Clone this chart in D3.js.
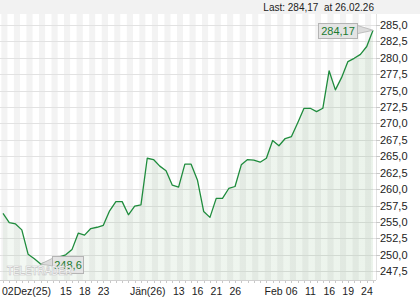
<!DOCTYPE html>
<html>
<head>
<meta charset="utf-8">
<script src="https://cdn.jsdelivr.net/npm/d3@7"></script>
<style>
  body { margin: 0; background: #fff; }
  text { font-family: "Liberation Sans", Arial, sans-serif; }
</style>
</head>
<body>
<div id="chart"></div>
<script>
// trading days shown on the chart
const dates = [
  "2025-12-02","2025-12-03","2025-12-04","2025-12-05","2025-12-08","2025-12-09","2025-12-10",
  "2025-12-11","2025-12-12","2025-12-15","2025-12-16","2025-12-17","2025-12-18","2025-12-19",
  "2025-12-22","2025-12-23","2025-12-24","2025-12-29","2025-12-30","2025-12-31","2026-01-02",
  "2026-01-05","2026-01-06","2026-01-07","2026-01-08","2026-01-09","2026-01-12","2026-01-13",
  "2026-01-14","2026-01-15","2026-01-16","2026-01-19","2026-01-20","2026-01-21","2026-01-22",
  "2026-01-23","2026-01-26","2026-01-27","2026-01-28","2026-01-29","2026-01-30","2026-02-02",
  "2026-02-03","2026-02-04","2026-02-05","2026-02-06","2026-02-09","2026-02-10","2026-02-11",
  "2026-02-12","2026-02-13","2026-02-16","2026-02-17","2026-02-18","2026-02-19","2026-02-20",
  "2026-02-23","2026-02-24","2026-02-25","2026-02-26"
];
const prices = [
  256.3, 254.9, 254.7, 253.8, 250.1, 249.4, 248.6, 248.9, 249.3, 249.7,
  250.0, 250.8, 253.3, 253.0, 254.0, 254.2, 254.5, 256.7, 258.1, 258.1,
  256.1, 257.4, 257.6, 264.7, 264.5, 263.5, 262.8, 260.6, 260.3, 263.8,
  263.8, 261.4, 256.6, 255.7, 258.6, 258.6, 260.1, 260.4, 263.7, 264.5,
  264.4, 264.1, 264.7, 267.4, 266.6, 267.7, 268.0, 270.1, 272.3, 272.3,
  271.8, 272.3, 278.0, 275.1, 277.0, 279.4, 279.9, 280.5, 281.7, 284.17
];
const yTicks = [247.5, 250, 252.5, 255, 257.5, 260, 262.5, 265, 267.5, 270, 272.5, 275, 277.5, 280, 282.5, 285];
const tickDates = ["2025-12-02","2025-12-15","2025-12-18","2025-12-23","2026-01-02","2026-01-13","2026-01-16",
                   "2026-01-21","2026-01-26","2026-02-02","2026-02-06","2026-02-11","2026-02-16","2026-02-19","2026-02-24"];
const tickTexts = ["02Dez(25)","15","18","23","Jän(26)","13","16","21","26","Feb","06","11","16","19","24"];
const lastText = "Last: 284,17  at 26.02.26";
const watermark = "TELETRADER";

const W = 420, H = 300;
const plotL = 0, plotR = 376, plotT = 14, plotB = 280;

const svg = d3.select("#chart").append("svg")
  .attr("width", W).attr("height", H);

const x = d3.scalePoint().domain(dates).range([3, 373]);
const y = d3.scaleLinear().domain([247.5, 285]).range([271.3, 24.8]);
const step = x.step();
const comma = v => d3.format(".1f")(v).replace(".", ",");
const comma2 = v => d3.format(".2f")(v).replace(".", ",");

// top band
svg.append("rect").attr("x", 0).attr("y", 0).attr("width", W).attr("height", plotT)
  .attr("fill", "#f2f2f2");

const clip = svg.append("clipPath").attr("id", "plot-clip").append("rect")
  .attr("x", plotL).attr("y", plotT).attr("width", plotR - plotL).attr("height", plotB - plotT);

const plot = svg.append("g").attr("clip-path", "url(#plot-clip)");

// day stripes
plot.selectAll(".stripe")
  .data(dates)
  .join("rect")
  .attr("class", "stripe")
  .attr("x", d => x(d) - step / 2 + 1.5)
  .attr("y", plotT)
  .attr("width", step)
  .attr("height", plotB - plotT)
  .attr("fill", (d, i) => i % 2 === 0 ? "#f3f3f3" : "#ffffff");

// horizontal grid
plot.selectAll(".grid")
  .data(yTicks)
  .join("line")
  .attr("class", "grid")
  .attr("x1", plotL).attr("x2", plotR)
  .attr("y1", d => Math.round(y(d)) + 0.5)
  .attr("y2", d => Math.round(y(d)) + 0.5)
  .attr("stroke", "#e2e2e2");

// area under line
const grad = svg.append("defs").append("linearGradient").attr("id", "fillGrad")
  .attr("x1", "0%").attr("x2", "100%").attr("y1", "0%").attr("y2", "0%");
grad.append("stop").attr("offset", "0%").attr("stop-color", "#3c8c3c").attr("stop-opacity", 0.06);
grad.append("stop").attr("offset", "100%").attr("stop-color", "#3c8c3c").attr("stop-opacity", 0.1);

const pts = dates.map((d, i) => [d, prices[i]]);

plot.append("path")
  .datum(pts)
  .attr("fill", "url(#fillGrad)")
  .attr("d", d3.area().x(d => x(d[0])).y0(plotB).y1(d => y(d[1])));

plot.append("path")
  .datum(pts)
  .attr("fill", "none")
  .attr("stroke", "#1f8c3d")
  .attr("stroke-width", 1.3)
  .attr("stroke-linejoin", "round")
  .attr("d", d3.line().x(d => x(d[0])).y(d => y(d[1])));

// bottom axis line and day ticks
svg.append("line").attr("x1", plotL).attr("x2", plotR)
  .attr("y1", plotB + 0.5).attr("y2", plotB + 0.5).attr("stroke", "#d0d0d0");
svg.selectAll(".dtick")
  .data(dates)
  .join("line")
  .attr("class", "dtick")
  .attr("x1", d => Math.round(x(d)) + 0.5).attr("x2", d => Math.round(x(d)) + 0.5)
  .attr("y1", plotB + 1).attr("y2", plotB + 3)
  .attr("stroke", "#c8c8c8");

// right axis
svg.append("line").attr("x1", plotR + 0.5).attr("x2", plotR + 0.5)
  .attr("y1", plotT).attr("y2", plotB).attr("stroke", "#e2e2e2");
svg.selectAll(".ytick")
  .data(yTicks)
  .join("line")
  .attr("class", "ytick")
  .attr("x1", plotR).attr("x2", plotR + 4)
  .attr("y1", d => Math.round(y(d)) + 0.5)
  .attr("y2", d => Math.round(y(d)) + 0.5)
  .attr("stroke", "#c8c8c8");
svg.selectAll(".ylabel")
  .data(yTicks)
  .join("text")
  .attr("class", "ylabel")
  .attr("x", plotR + 4)
  .attr("y", d => y(d) + 4)
  .attr("font-size", 11)
  .attr("fill", "#222")
  .text(d => comma(d));

// x labels
svg.selectAll(".xlabel")
  .data(tickDates)
  .join("text")
  .attr("class", "xlabel")
  .attr("x", (d, i) => {
    if (i === 0) return x(d) - 1;
    if (tickTexts[i] === "Jän(26)") return x(d) + 1.5;
    if (tickTexts[i] === "Feb") return x(d) + 13.5;
    return x(d) + 6.5;
  })
  .attr("y", 295)
  .attr("text-anchor", (d, i) => (i === 0 || tickTexts[i] === "Jän(26)") ? "start" : "middle")
  .attr("font-size", 10.5)
  .attr("fill", "#222")
  .text((d, i) => tickTexts[i]);

// last value header
svg.append("text")
  .attr("x", 374).attr("y", 11)
  .attr("text-anchor", "end")
  .attr("font-size", 10)
  .attr("fill", "#222")
  .style("white-space", "pre")
  .text(lastText);

// callouts
function callout(idx, bx, by, bw, bh, label, side) {
  const px = x(dates[idx]), py = y(prices[idx]);
  const g = svg.append("g");
  const ex = side === "right" ? bx + bw : bx;
  g.append("path")
    .attr("d", side === "right"
      ? `M${ex - 1},${by + 2}L${px},${py}L${ex - 1},${by + bh - 4}Z`
      : `M${ex + 1},${by + 2}L${px},${py}L${ex + 1},${by + bh - 7}Z`)
    .attr("fill", "#dcdcdc").attr("stroke", "#b4b4b4").attr("stroke-width", 0.8);
  g.append("rect")
    .attr("x", bx + 0.5).attr("y", by + 0.5).attr("width", bw).attr("height", bh)
    .attr("fill", "#e4e4e4").attr("stroke", "#b4b4b4");
  g.append("text")
    .attr("x", bx + bw / 2 + 0.5).attr("y", by + bh / 2 + 4.5)
    .attr("text-anchor", "middle")
    .attr("font-size", 11)
    .attr("fill", "#1a7a30")
    .text(label);
}
const iMax = prices.length - 1;
const iMin = d3.minIndex(prices);
callout(iMax, 318, 23, 39, 15, comma2(prices[iMax]), "right");
callout(iMin, 52, 256, 31, 17, comma(prices[iMin]), "left");

// watermark
svg.append("text")
  .attr("x", 7).attr("y", 275)
  .attr("font-size", 13)
  .attr("font-weight", "bold")
  .attr("textLength", 65)
  .attr("lengthAdjust", "spacingAndGlyphs")
  .attr("fill", "#ffffff")
  .attr("stroke", "#c4c4c4")
  .attr("stroke-width", 0.7)
  .text(watermark);
</script>
</body>
</html>
